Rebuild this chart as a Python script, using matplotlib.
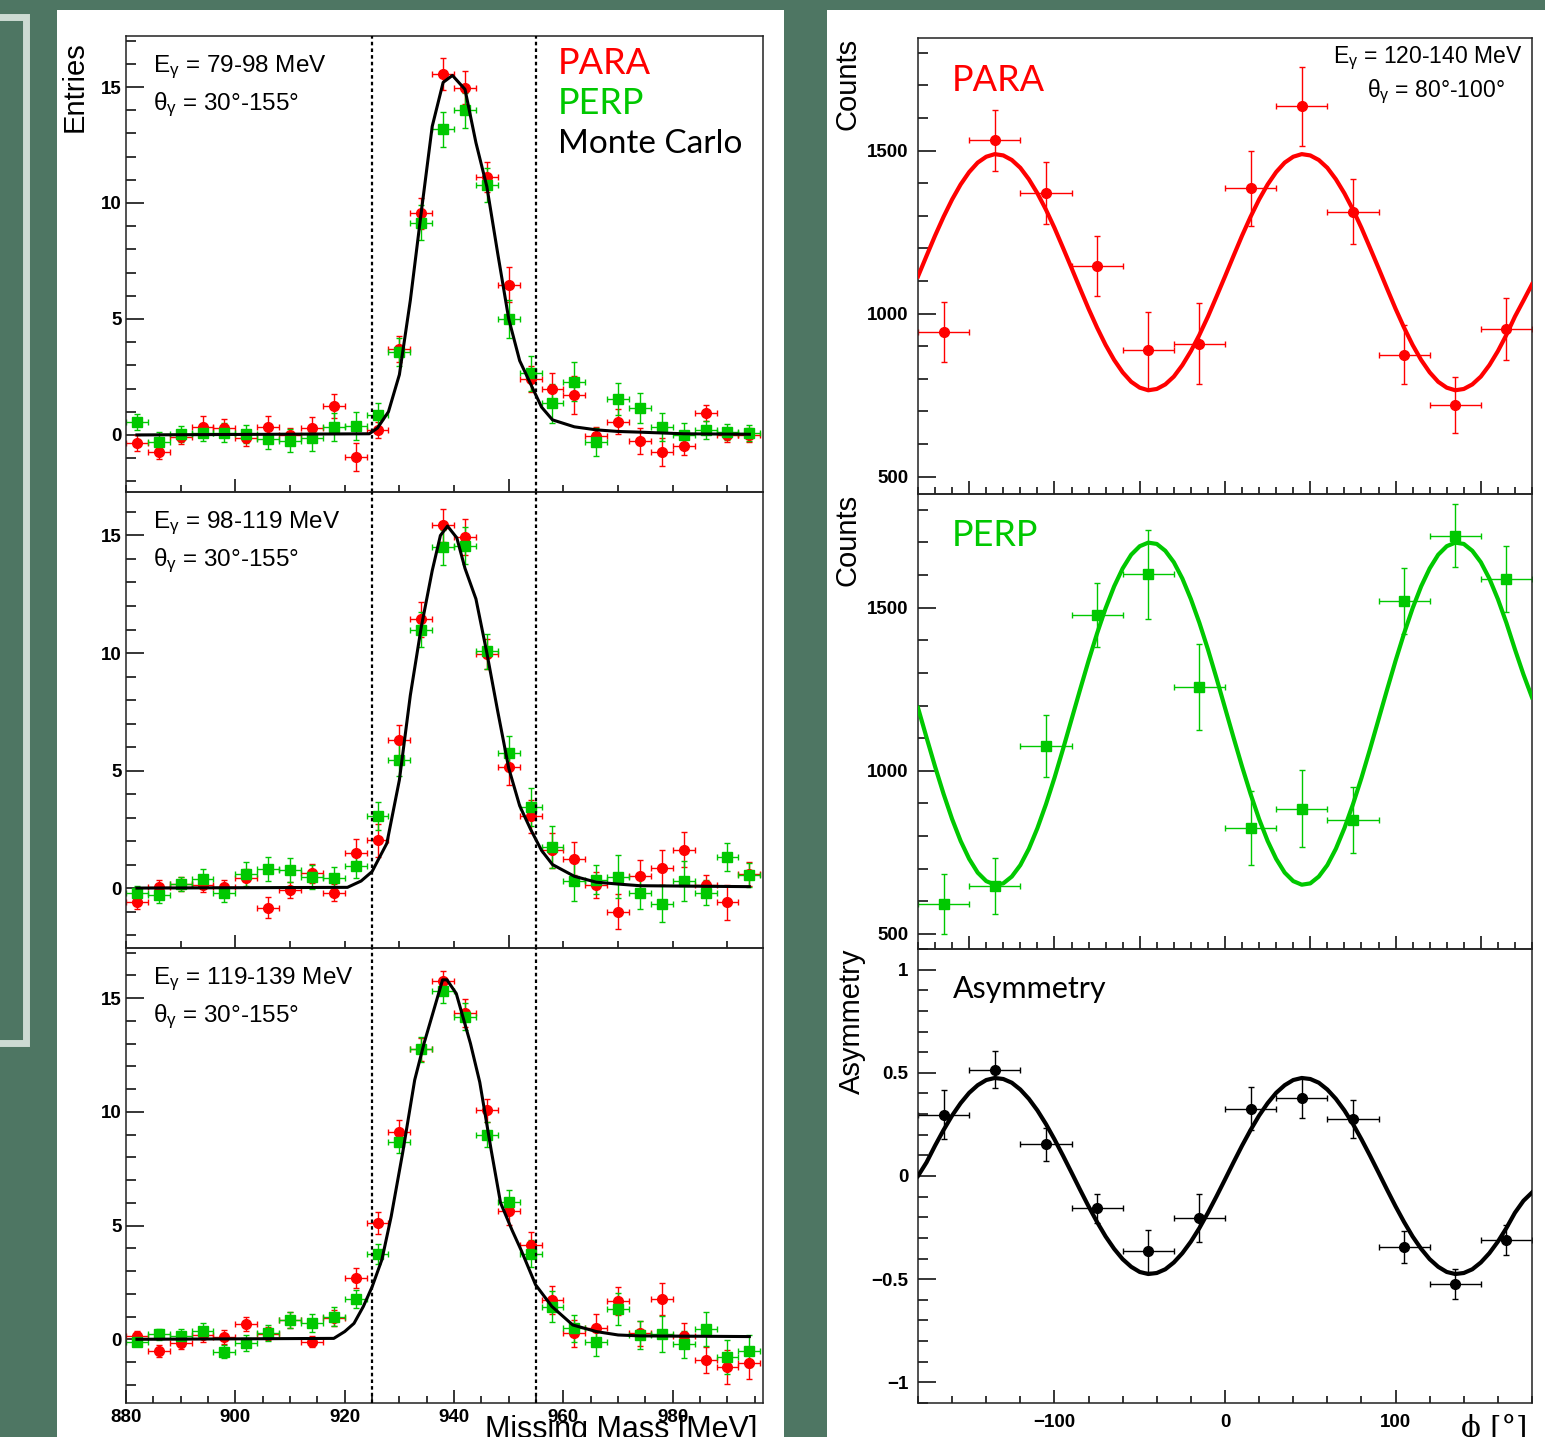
import numpy as np
import matplotlib
matplotlib.use("Agg")
import matplotlib.pyplot as plt
from matplotlib.patches import Rectangle
from matplotlib.ticker import MultipleLocator

plt.rcParams["font.family"] = ["Liberation Sans", "DejaVu Sans"]
plt.rcParams["mathtext.fontset"] = "custom"
plt.rcParams["mathtext.rm"] = "Liberation Sans"
plt.rcParams["mathtext.it"] = "Liberation Sans:italic"

# ---- missing mass spectra (left) ----
mm = [882, 886, 890, 894, 898, 902, 906, 910, 914, 918, 922, 926, 930, 934, 938,
      942, 946, 950, 954, 958, 962, 966, 970, 974, 978, 982, 986, 990, 994]

para_1 = [-0.36, -0.72, -0.07, 0.36, 0.29, -0.14, 0.36, 0.0, 0.29, 1.25, -0.96, 0.22, 3.7, 9.55, 15.56,
          14.97, 11.13, 6.47, 2.41, 1.97, 1.72, -0.04, 0.57, -0.26, -0.75, -0.46, 0.96, 0.0, 0.0]
para_1_err = [0.35, 0.3, 0.3, 0.45, 0.4, 0.35, 0.45, 0.3, 0.5, 0.5, 0.6, 0.35, 0.55, 0.65, 0.7,
              0.7, 0.65, 0.75, 0.55, 0.7, 0.8, 0.4, 0.55, 0.55, 0.6, 0.4, 0.35, 0.3, 0.3]
perp_1 = [0.57, -0.29, 0.03, 0.1, 0.1, 0.04, -0.19, -0.24, -0.14, 0.33, 0.4, 0.86, 3.59, 9.15, 13.18,
          14.0, 10.78, 5.0, 2.66, 1.36, 2.3, -0.32, 1.55, 1.15, 0.36, 0.0, 0.22, 0.14, 0.07]
perp_1_err = [0.35, 0.4, 0.35, 0.35, 0.4, 0.4, 0.4, 0.5, 0.55, 0.6, 0.6, 0.5, 0.6, 0.75, 0.75,
              0.75, 0.75, 0.8, 0.75, 0.85, 0.85, 0.6, 0.7, 0.65, 0.6, 0.5, 0.4, 0.35, 0.35]
mc_1_x = [882, 924.5, 926, 928, 930, 932, 934, 936, 938, 939.7, 942, 944, 946, 948, 950,
          952, 954, 956, 958, 962, 966, 970, 974, 982, 994]
mc_1_y = [0.0, 0.05, 0.3, 1.0, 2.6, 5.8, 9.6, 13.3, 15.2, 15.5, 14.9, 12.6, 10.7, 7.8, 5.0,
          3.2, 2.2, 1.2, 0.65, 0.35, 0.22, 0.15, 0.12, 0.05, 0.03]

para_2 = [-0.61, 0.06, 0.17, 0.15, 0.06, 0.43, -0.83, -0.09, 0.63, -0.19, 1.5, 2.03, 6.28, 11.44, 15.43,
          14.94, 9.96, 5.14, 3.05, 1.6, 1.24, 0.14, -1.0, 0.53, 0.86, 1.64, 0.14, -0.61, 0.6]
para_2_err = [0.3, 0.3, 0.3, 0.3, 0.3, 0.4, 0.45, 0.35, 0.4, 0.35, 0.6, 0.7, 0.65, 0.75, 0.7,
              0.75, 0.65, 0.75, 0.7, 0.75, 0.7, 0.55, 0.75, 0.65, 0.75, 0.75, 0.4, 0.75, 0.5]
perp_2 = [-0.23, -0.3, 0.17, 0.39, -0.23, 0.6, 0.81, 0.77, 0.46, 0.43, 0.93, 3.07, 5.45, 11.0, 14.5,
          14.57, 10.08, 5.73, 3.45, 1.74, 0.31, 0.36, 0.49, -0.21, -0.66, 0.31, -0.19, 1.31, 0.56]
perp_2_err = [0.3, 0.35, 0.3, 0.4, 0.35, 0.5, 0.5, 0.5, 0.5, 0.45, 0.5, 0.6, 0.7, 0.75, 0.75,
              0.8, 0.75, 0.75, 0.8, 0.9, 0.85, 0.6, 0.9, 0.7, 0.8, 0.85, 0.55, 0.6, 0.5]
mc_2_x = [882, 920.5, 923, 925, 927.7, 930, 932, 934, 936, 937.5, 938.8, 940.5, 942, 944, 946,
          948, 950, 952, 954, 956, 958, 962, 966, 970, 974, 994]
mc_2_y = [0.0, 0.03, 0.3, 0.7, 1.9, 4.6, 8.2, 11.1, 13.5, 15.0, 15.4, 14.9, 13.6, 12.3, 10.0,
          7.5, 5.1, 3.5, 2.5, 1.6, 1.0, 0.5, 0.25, 0.17, 0.1, 0.06]

para_3 = [0.15, -0.51, -0.18, 0.2, 0.09, 0.66, 0.25, 0.85, -0.1, 0.93, 2.69, 5.11, 9.12, 12.75, 15.73,
          14.34, 10.06, 5.62, 4.16, 1.73, 0.26, 0.51, 1.69, 0.26, 1.76, 0.15, -0.91, -1.2, -1.03]
para_3_err = [0.2, 0.25, 0.25, 0.3, 0.3, 0.3, 0.3, 0.35, 0.25, 0.35, 0.45, 0.5, 0.5, 0.5, 0.45,
              0.6, 0.5, 0.6, 0.55, 0.6, 0.6, 0.6, 0.6, 0.55, 0.7, 0.55, 0.55, 0.75, 0.7]
perp_3 = [-0.1, 0.22, 0.15, 0.37, -0.54, -0.18, 0.26, 0.85, 0.73, 1.0, 1.78, 3.75, 8.68, 12.75, 15.29,
          14.18, 9.0, 6.02, 3.76, 1.44, 0.48, -0.1, 1.32, 0.19, 0.22, -0.22, 0.46, -0.76, -0.5]
perp_3_err = [0.2, 0.25, 0.3, 0.35, 0.3, 0.35, 0.35, 0.35, 0.4, 0.4, 0.4, 0.45, 0.5, 0.55, 0.5,
              0.6, 0.55, 0.55, 0.6, 0.7, 0.6, 0.65, 0.7, 0.6, 0.8, 0.6, 0.75, 0.75, 0.7]
mc_3_x = [882, 918, 920, 921.7, 923.4, 925, 926.8, 928.5, 930.6, 932.8, 934.5, 936.2, 937.9, 938.7,
          940.4, 943, 944.7, 946.8, 948.5, 950.6, 952.3, 954.9, 957.9, 961.7, 966, 970, 974, 994]
mc_3_y = [0.0, 0.04, 0.34, 0.7, 1.44, 2.3, 3.5, 5.4, 8.2, 11.4, 13.0, 14.4, 15.8, 15.8,
          15.2, 13.0, 11.3, 8.3, 6.0, 4.8, 3.9, 2.4, 1.44, 0.63, 0.34, 0.19, 0.15, 0.12]

energy_labels = ["79-98", "98-119", "119-139"]
cut_lo, cut_hi = 925, 955

# ---- phi distributions (right) ----
phi = [-165, -135, -105, -75, -45, -15, 15, 45, 75, 105, 135, 165]
para_phi = [945, 1531, 1370, 1146, 887, 908, 1385, 1635, 1313, 874, 720, 954]
para_phi_err = [92, 94, 95, 92, 117, 125, 115, 120, 101, 90, 85, 95]
perp_phi = [591, 647, 1076, 1476, 1602, 1257, 825, 884, 848, 1520, 1720, 1587]
perp_phi_err = [92, 87, 95, 98, 137, 131, 113, 119, 101, 100, 97, 102]
asym = [0.297, 0.515, 0.154, -0.157, -0.363, -0.203, 0.326, 0.378, 0.276, -0.344, -0.522, -0.311]
asym_err = [0.12, 0.09, 0.08, 0.07, 0.1, 0.115, 0.105, 0.095, 0.094, 0.077, 0.073, 0.074]

# fitted curves, read every 5 degrees
fit_phi = list(range(-180, 185, 5))
para_fit = [1114, 1177, 1239, 1297, 1350, 1396, 1434, 1463, 1481, 1489, 1485, 1471, 1447, 1412, 1369, 1319,
            1263, 1202, 1140, 1077, 1015, 957, 904, 858, 820, 791, 773, 765, 769, 783, 807, 842, 885, 935,
            991, 1052,
            1114, 1177, 1239, 1297, 1350, 1396, 1434, 1463, 1481, 1489, 1485, 1471, 1447, 1412, 1369, 1319,
            1263, 1202, 1140, 1077, 1015, 957, 904, 858, 820, 791, 773, 765, 769, 783, 807, 842, 885, 935,
            991, 1040, 1090]
perp_fit = [1193, 1102, 1013, 929, 852, 785, 730, 688, 662, 651, 655, 676, 711, 761, 824, 897,
            978, 1066, 1157, 1248, 1337, 1421, 1498, 1565, 1620, 1662, 1688, 1699, 1695, 1674, 1639, 1589,
            1526, 1453, 1372, 1284,
            1193, 1102, 1013, 929, 852, 785, 730, 688, 662, 651, 655, 676, 711, 761, 824, 897,
            978, 1066, 1157, 1248, 1337, 1421, 1498, 1565, 1620, 1662, 1688, 1699, 1695, 1674, 1639, 1589,
            1526, 1453, 1372, 1295, 1225]
asym_fit = [0.0, 0.066, 0.147, 0.223, 0.293, 0.353, 0.403, 0.440, 0.465, 0.475, 0.470, 0.452, 0.419, 0.374,
            0.318, 0.252, 0.178, 0.099, 0.017, -0.066, -0.147, -0.223, -0.293, -0.353, -0.403, -0.440,
            -0.465, -0.475, -0.470, -0.452, -0.419, -0.374, -0.318, -0.252, -0.178, -0.099,
            -0.017, 0.066, 0.147, 0.223, 0.293, 0.353, 0.403, 0.440, 0.465, 0.475, 0.470, 0.452, 0.419,
            0.374, 0.318, 0.252, 0.178, 0.099, 0.017, -0.066, -0.147, -0.223, -0.293, -0.353, -0.403,
            -0.440, -0.465, -0.475, -0.470, -0.452, -0.419, -0.374, -0.318, -0.252, -0.178, -0.12, -0.08]
asym_ticks = [-1, -0.5, 0, 0.5, 1]
asym_ticklabels = ["\u22121", "\u22120.5", "0", "0.5", "1"]

RED = "#ff0000"
GREEN = "#00c800"
W, H = 1545, 1437
TICKSIZE = 13.5

fig = plt.figure(figsize=(W / 100, H / 100), dpi=100, facecolor="#4e7663")


def rect(x0, y0, x1, y1):
    return [x0 / W, 1 - y1 / H, (x1 - x0) / W, (y1 - y0) / H]


def P(x, y):
    return x / W, 1 - y / H


# slide decorations (behind the axes)
fig.patches.append(Rectangle((-20 / W, 1 - 1043 / H), 46.5 / W, (1043 - 16.5) / H, transform=fig.transFigure,
                             fill=False, ec="#cddbd3", lw=5, zorder=-10))
fig.patches.append(Rectangle(P(57, 1437), 727 / W, 1427 / H, transform=fig.transFigure,
                             fc="white", ec="none", zorder=-10))
fig.patches.append(Rectangle(P(827, 1437), 718 / W, 1427 / H, transform=fig.transFigure,
                             fc="white", ec="none", zorder=-10))


def style(ax, xmaj, xmin, ymaj, ymin):
    ax.xaxis.set_major_locator(MultipleLocator(xmaj))
    ax.xaxis.set_minor_locator(MultipleLocator(xmin))
    ax.yaxis.set_major_locator(MultipleLocator(ymaj))
    ax.yaxis.set_minor_locator(MultipleLocator(ymin))
    ax.tick_params(which="both", direction="in", top=False, right=False, width=1.1, labelsize=TICKSIZE)
    ax.tick_params(axis="x", which="major", length=9.5)
    ax.tick_params(axis="x", which="minor", length=5)
    ax.tick_params(axis="y", which="major", length=13)
    ax.tick_params(axis="y", which="minor", length=7)
    for s in ax.spines.values():
        s.set_linewidth(1.1)
        s.set_color("#222222")
    ax.set_facecolor("none")


left_rows = [(36, 492), (492, 948), (948, 1403)]
left_ylims = [(-2.46, 17.2), (-2.55, 16.85), (-2.8, 17.2)]
spectra = [(para_1, para_1_err, perp_1, perp_1_err, mc_1_x, mc_1_y),
           (para_2, para_2_err, perp_2, perp_2_err, mc_2_x, mc_2_y),
           (para_3, para_3_err, perp_3, perp_3_err, mc_3_x, mc_3_y)]

all_axes = []
for i, (t, b) in enumerate(left_rows):
    ax = fig.add_axes(rect(126, t, 763, b))
    all_axes.append(ax)
    pa, pae, pe, pee, mx, my = spectra[i]
    ax.errorbar(mm, pa, xerr=2, yerr=pae, fmt="o", color=RED, ms=7, elinewidth=1, capsize=2.5, capthick=1)
    ax.errorbar(mm, pe, xerr=2, yerr=pee, fmt="s", color=GREEN, ms=7, elinewidth=1, capsize=2.5, capthick=1)
    ax.plot(mx, my, color="black", lw=2.2, zorder=5)
    for c in (cut_lo, cut_hi):
        ax.axvline(c, color="black", lw=1.6, ls=(0, (1.6, 1.4)), zorder=6)
    ax.set_xlim(880, 996.5)
    ax.set_ylim(*left_ylims[i])
    if i < 2:
        style(ax, 50, 10, 5, 1)
        ax.tick_params(axis="x", labelbottom=False)
    else:
        style(ax, 20, 5, 5, 1)
        ax.tick_params(axis="x", pad=4)
    ax.tick_params(axis="y", pad=3)
    fig.text(*P(153, t + 36), r"E$_{\mathrm{\gamma}}$ = %s MeV" % energy_labels[i], fontsize=17.5, va="baseline")
    fig.text(*P(153, t + 74), r"θ$_{\mathrm{\gamma}}$ = 30°-155°", fontsize=17.5, va="baseline")

fig.text(*P(75, 132), "Entries", rotation=90, fontsize=21, ha="center", va="bottom")
fig.text(*P(757, 1415), "Missing Mass [MeV]", fontsize=22, ha="right", va="top")
fig.text(*P(558, 74), "PARA", color=RED, fontsize=26, family="Lato", va="baseline")
fig.text(*P(558, 114), "PERP", color=GREEN, fontsize=26, family="Lato", va="baseline")
fig.text(*P(558, 153), "Monte Carlo", color="black", fontsize=24, family="Lato", va="baseline")

right_rows = [(38, 494), (494, 949), (949, 1403)]
for i, (t, b) in enumerate(right_rows):
    ax = fig.add_axes(rect(918, t, 1532, b))
    all_axes.append(ax)
    ax.set_xlim(-180, 180)
    if i == 0:
        ax.errorbar(phi, para_phi, xerr=15, yerr=para_phi_err, fmt="o", color=RED, ms=7,
                    elinewidth=1, capsize=2.5, capthick=1)
        ax.plot(fit_phi, para_fit, color=RED, lw=3, zorder=5)
        ax.set_ylim(447, 1845)
    elif i == 1:
        ax.errorbar(phi, perp_phi, xerr=15, yerr=perp_phi_err, fmt="s", color=GREEN, ms=7,
                    elinewidth=1, capsize=2.5, capthick=1)
        ax.plot(fit_phi, perp_fit, color=GREEN, lw=3, zorder=5)
        ax.set_ylim(454, 1848)
    else:
        ax.errorbar(phi, asym, xerr=15, yerr=asym_err, fmt="o", color="black", ms=7,
                    elinewidth=1, capsize=2.5, capthick=1)
        ax.plot(fit_phi, asym_fit, color="black", lw=3, zorder=5)
        ax.set_ylim(-1.1, 1.1)
    if i < 2:
        style(ax, 50, 10, 500, 100)
        ax.tick_params(axis="x", labelbottom=False)
        ax.set_ylabel("Counts", fontsize=21, loc="top", labelpad=4)
    else:
        style(ax, 100, 20, 0.5, 0.1)
        ax.set_yticks(asym_ticks)
        ax.set_yticklabels(asym_ticklabels)
        ax.tick_params(axis="x", pad=8)
        ax.set_ylabel("Asymmetry", fontsize=21, loc="top", labelpad=4)
    ax.tick_params(axis="y", pad=7)

fig.text(*P(1522, 63), r"E$_{\mathrm{\gamma}}$ = 120-140 MeV", fontsize=16.5, ha="right", va="baseline")
fig.text(*P(1505, 97), r"θ$_{\mathrm{\gamma}}$ = 80°-100°", fontsize=16.5, ha="right", va="baseline")
fig.text(*P(952, 91), "PARA", color=RED, fontsize=26, family="Lato", va="baseline")
fig.text(*P(952, 546), "PERP", color=GREEN, fontsize=26, family="Lato", va="baseline")
fig.text(*P(953, 998), "Asymmetry", color="black", fontsize=22, family="Lato", va="baseline")
fig.text(*P(1527, 1437), "ϕ [°]", fontsize=21, ha="right", va="baseline", family=["DejaVu Serif"])

fig.canvas.draw()
for ax in all_axes:
    for lab in ax.get_xticklabels() + ax.get_yticklabels():
        lab.set_fontweight("bold")

fig.savefig("out.png", dpi=100, facecolor=fig.get_facecolor())
